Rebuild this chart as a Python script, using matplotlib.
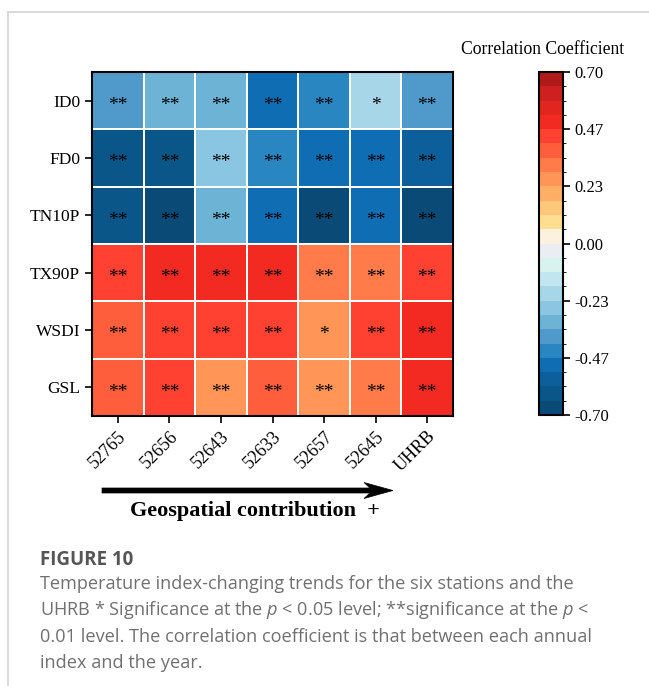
import numpy as np
import matplotlib
matplotlib.use('Agg')
import matplotlib.pyplot as plt
from matplotlib.colors import ListedColormap, BoundaryNorm
from matplotlib.lines import Line2D
from matplotlib.patches import Polygon

stations = ['52765', '52656', '52643', '52633', '52657', '52645', 'UHRB']
indices = ['ID0', 'FD0', 'TN10P', 'TX90P', 'WSDI', 'GSL']

# correlation coefficients (rows = indices, cols = stations)
corr = np.array([
    [-0.38, -0.32, -0.32, -0.50, -0.44, -0.20, -0.38],
    [-0.61, -0.61, -0.26, -0.44, -0.50, -0.50, -0.55],
    [-0.61, -0.67, -0.32, -0.50, -0.67, -0.50, -0.67],
    [0.44, 0.50, 0.50, 0.50, 0.32, 0.32, 0.44],
    [0.38, 0.44, 0.44, 0.44, 0.26, 0.44, 0.50],
    [0.38, 0.44, 0.26, 0.38, 0.26, 0.32, 0.50],
])

sig = [
    ['**', '**', '**', '**', '**', '*', '**'],
    ['**', '**', '**', '**', '**', '**', '**'],
    ['**', '**', '**', '**', '**', '**', '**'],
    ['**', '**', '**', '**', '**', '**', '**'],
    ['**', '**', '**', '**', '*', '**', '**'],
    ['**', '**', '**', '**', '**', '**', '**'],
]

cb_colors = ['#0a4a77', '#0b5688', '#0c5f9b', '#0f6eb3', '#2a86c0', '#4f9aca',
             '#6cb3d6', '#8ac6e2', '#a6d6e8', '#c2e6f0', '#d8f2ef', '#eaeef2',
             '#fcf1dd', '#ffdf8f', '#ffc77a', '#ffae66', '#ff9658', '#ff7b4a',
             '#ff5e3c', '#ff4132', '#f22a22', '#e0261f', '#ce2020', '#b01a1a']

cmap = ListedColormap(cb_colors)
bounds = np.linspace(-0.7, 0.7, len(cb_colors) + 1)
norm = BoundaryNorm(bounds, cmap.N)

plt.rcParams['font.family'] = ['Liberation Serif', 'DejaVu Serif']
plt.rcParams['mathtext.fontset'] = 'custom'
plt.rcParams['mathtext.it'] = 'Open Sans:italic'

W, H = 649, 686
fig = plt.figure(figsize=(W / 100, H / 100), dpi=100)

ax = fig.add_axes([92 / W, 1 - 416 / H, 361 / W, 344 / H])
ax.pcolormesh(np.arange(len(stations) + 1), np.arange(len(indices) + 1), corr,
              cmap=cmap, norm=norm, edgecolors='white', linewidth=1.2)
ax.set_xlim(0, len(stations))
ax.set_ylim(len(indices), 0)
for i in range(len(indices)):
    for j in range(len(stations)):
        ax.text(j + 0.5, i + 0.66, sig[i][j], ha='center', va='baseline',
                fontsize=14, color='black')

ax.set_xticks(np.arange(len(stations)) + 0.5)
ax.set_xticklabels(stations, rotation=45, ha='right', rotation_mode='anchor',
                   fontsize=13)
ax.set_yticks(np.arange(len(indices)) + 0.5)
ax.set_yticklabels(indices, fontsize=12.5)
ax.tick_params(length=5, width=1.2)
for s in ax.spines.values():
    s.set_linewidth(1.5)

cax = fig.add_axes([539 / W, 1 - 415 / H, 24 / W, 343 / H])
sm = plt.cm.ScalarMappable(cmap=cmap, norm=norm)
cb = fig.colorbar(sm, cax=cax, ticks=np.linspace(-0.7, 0.7, 7))
cb.ax.set_yticklabels(['%.2f' % t for t in np.linspace(-0.7, 0.7, 7)])
cb.ax.tick_params(labelsize=12, length=5, width=1.2)
cb.outline.set_linewidth(1.5)
fig.text(543 / W, 1 - 50 / H, 'Correlation Coefficient', ha='center',
         va='center', fontsize=12.7)

# arrow (figure pixel coordinates) and label
arrow_px = [(102, 488), (370, 488), (364, 482.5), (393, 490.5),
            (364, 498.5), (370, 493), (102, 493)]
fig.add_artist(Polygon([(x / W, 1 - y / H) for x, y in arrow_px], closed=True,
                       transform=fig.transFigure, facecolor='black',
                       edgecolor='black', lw=0.5))
fig.text(255 / W, 1 - 511 / H, 'Geospatial contribution  +', ha='center',
         va='center', fontsize=16, fontweight='bold')

# page frame
fig.add_artist(Line2D([8 / W, 1], [1 - 12 / H, 1 - 12 / H], color='#d4d4d4', lw=1.2))
fig.add_artist(Line2D([8 / W, 8 / W], [0, 1 - 12 / H], color='#d4d4d4', lw=1.2))

# caption
cap_font = ['Open Sans', 'DejaVu Sans']
fig.text(40 / W, 1 - 560 / H, 'FIGURE 10', ha='left', va='center', fontsize=13.5,
         fontweight='bold', color='#555555', family=cap_font)
caption = [
    'Temperature index-changing trends for the six stations and the',
    'UHRB * Significance at the $p$ < 0.05 level; **significance at the $p$ <',
    '0.01 level. The correlation coefficient is that between each annual',
    'index and the year.',
]
for k, line in enumerate(caption):
    fig.text(40 / W, 1 - (584 + 26.3 * k) / H, line, ha='left', va='center',
             fontsize=13.1, color='#707070', family=cap_font)

fig.savefig('out.png', dpi=100)
